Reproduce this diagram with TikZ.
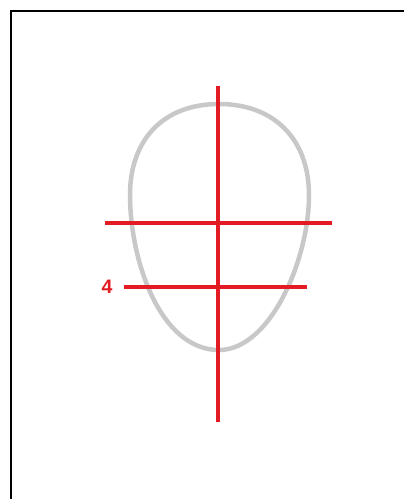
\documentclass[tikz,border=0pt]{standalone}
\usepackage{fontspec}
\setsansfont{Liberation Sans}
\usepackage{xcolor}
\usetikzlibrary{calc, positioning}
\definecolor{guide}{HTML}{E31B23}
\definecolor{outline}{HTML}{C8C8C8}

\begin{document}
\begin{tikzpicture}[x=1pt, y=-1pt, face/.style={draw=outline, line width=4.5pt}, guideline/.style={draw=guide, line width=4pt}, lbl/.style={text=guide, font=\sffamily\bfseries\fontsize{19.5}{20}\selectfont, inner sep=0pt}]
\useasboundingbox (0,0) rectangle (404,499);
\fill[white] (0,0) rectangle (404,499);
\draw[line width=2pt] (11,11) rectangle (420,520);
% head outline
\draw[face] (219,104) .. controls (163,104) and (130,140) .. (130,195)
  .. controls (130,260) and (160,350) .. (219,350)
  .. controls (270,350) and (309,260) .. (309,195)
  .. controls (309,140) and (275,104) .. (219,104) -- cycle;
% guide lines
\coordinate (vtop) at (218,86);
\coordinate (vbot) at (218,422);
\coordinate (eyeL) at (105,223);
\coordinate (eyeR) at (332,223);
\coordinate (noseL) at (124,287);
\coordinate (noseR) at (307,287);
\draw[guideline] (vtop) -- (vbot);
\draw[guideline] (eyeL) -- (eyeR);
\draw[guideline] (noseL) -- (noseR);
\node[lbl] (four) at (107,287) {4};
\end{tikzpicture}
\end{document}
